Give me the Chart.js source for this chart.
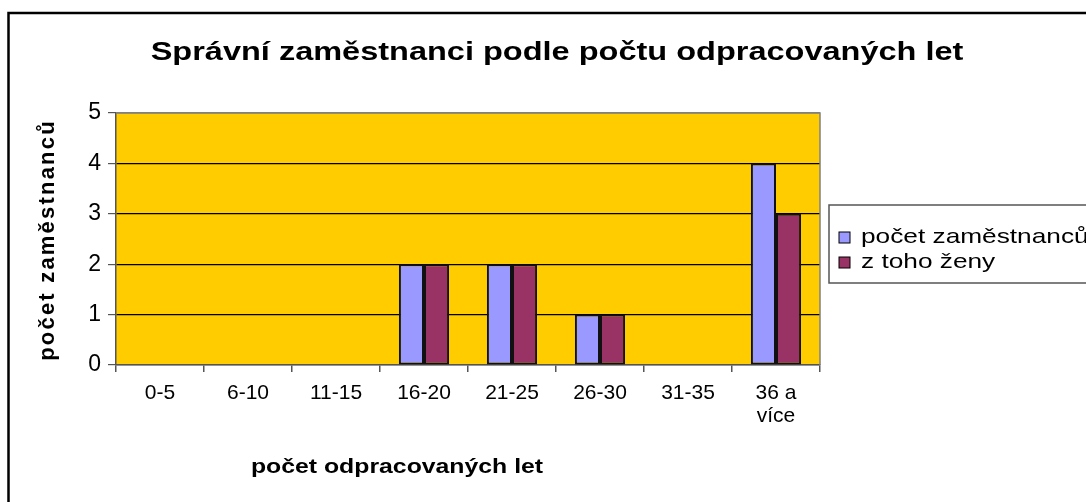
<!DOCTYPE html>
<html lang="cs">
<head>
<meta charset="utf-8">
<title>Správní zaměstnanci</title>
<script src="https://cdn.jsdelivr.net/npm/chart.js@4/dist/chart.umd.min.js"></script>
<style>
  html, body { margin: 0; padding: 0; background: #fff; }
  #wrap { width: 1086px; height: 502px; position: relative; }
</style>
</head>
<body>
<div id="wrap"><canvas id="chart" width="1086" height="502"></canvas></div>
<script>
// data
const categories = ['0-5', '6-10', '11-15', '16-20', '21-25', '26-30', '31-35', ['36 a', 'více']];
const pocetZamestnancu = [0, 0, 0, 2, 2, 1, 0, 4];
const zToHoZeny = [0, 0, 0, 2, 2, 1, 0, 3];
const yTicks = [0, 1, 2, 3, 4, 5];

const FONT = '"Liberation Sans", Arial, sans-serif';

// the original picture is a bit wider than it is tall, so text is stretched sideways
function stretchedText(ctx, text, x, y, font, sx, align, rotate, spacing) {
  ctx.save();
  ctx.translate(x, y);
  if (rotate) ctx.rotate(-Math.PI / 2);
  ctx.scale(sx, 1);
  ctx.font = font;
  ctx.letterSpacing = (spacing || 0) + 'px';
  ctx.textAlign = align;
  ctx.textBaseline = 'middle';
  ctx.fillStyle = '#000';
  ctx.fillText(text, 0, 0);
  ctx.restore();
}

// frame, titles, plot background and legend
const excelLook = {
  id: 'excelLook',
  beforeDraw(chart) {
    const { ctx, chartArea: a } = chart;
    ctx.save();
    ctx.fillStyle = '#FFCC00';
    ctx.fillRect(a.left, a.top, a.right - a.left, a.bottom - a.top);
    ctx.restore();
  },
  afterDraw(chart) {
    const { ctx, chartArea: a } = chart;
    ctx.save();
    // plot area top / right border
    ctx.strokeStyle = '#808080';
    ctx.lineWidth = 1.5;
    ctx.beginPath();
    ctx.moveTo(a.left, a.top);
    ctx.lineTo(a.right, a.top);
    ctx.lineTo(a.right, a.bottom);
    ctx.stroke();

    // outer frame
    ctx.strokeStyle = '#000';
    ctx.lineWidth = 2.5;
    ctx.strokeRect(8.5, 13, 1100, 520);

    stretchedText(ctx, 'Správní zaměstnanci podle počtu odpracovaných let', 557, 53,
      'bold 25px ' + FONT, 1.3, 'center');
    stretchedText(ctx, 'počet odpracovaných let', 397, 467,
      'bold 20px ' + FONT, 1.24, 'center');
    stretchedText(ctx, 'počet zaměstnanců', 48, 240,
      'bold 22px ' + FONT, 1.0, 'center', true, 2.2);

    // legend
    ctx.strokeStyle = '#555';
    ctx.lineWidth = 1.5;
    ctx.fillStyle = '#fff';
    ctx.fillRect(829, 205, 300, 78);
    ctx.strokeRect(829, 205, 300, 78);
    const items = [
      { text: 'počet zaměstnanců', color: '#9999FF', y: 237 },
      { text: 'z toho ženy', color: '#993366', y: 262 }
    ];
    items.forEach(it => {
      ctx.fillStyle = it.color;
      ctx.fillRect(839, it.y - 5, 11, 11);
      ctx.strokeStyle = '#000';
      ctx.lineWidth = 1;
      ctx.strokeRect(839, it.y - 5, 11, 11);
      stretchedText(ctx, it.text, 861, it.y, '21px ' + FONT, 1.25, 'left');
    });
    ctx.restore();
  }
};

new Chart(document.getElementById('chart'), {
  type: 'bar',
  data: {
    labels: categories,
    datasets: [
      {
        label: 'počet zaměstnanců',
        data: pocetZamestnancu,
        backgroundColor: '#9999FF',
        borderColor: '#111',
        borderWidth: c => (c.raw ? 2 : 0),
        borderSkipped: false
      },
      {
        label: 'z toho ženy',
        data: zToHoZeny,
        backgroundColor: '#993366',
        borderColor: '#111',
        borderWidth: c => (c.raw ? 2 : 0),
        borderSkipped: false
      }
    ]
  },
  options: {
    responsive: false,
    animation: false,
    categoryPercentage: 0.57,
    barPercentage: 1.0,
    layout: { padding: { left: 8, top: 113, right: 266, bottom: 0 } },
    plugins: {
      legend: { display: false },
      title: { display: false },
      tooltip: { enabled: false }
    },
    scales: {
      x: {
        afterFit: s => { s.height = 137; },
        grid: {
          offset: true,
          drawOnChartArea: false,
          color: '#555',
          tickLength: 7,
          lineWidth: 1.5
        },
        border: { color: '#555', width: 1.5 },
        ticks: {
          color: '#000',
          padding: 10,
          maxRotation: 0,
          autoSkip: false,
          font: { family: FONT, size: 21, lineHeight: 1.1 }
        }
      },
      y: {
        min: 0,
        max: 5,
        afterFit: s => { s.width = 108; },
        afterBuildTicks: s => { s.ticks = yTicks.map(v => ({ value: v })); },
        grid: {
          color: c => (c.tick && c.tick.value === 5 ? '#808080' : (c.tick && c.tick.value === 0 ? '#555' : '#000')),
          tickColor: '#555',
          tickLength: 8,
          lineWidth: 1.2
        },
        border: { color: '#555', width: 1.5 },
        ticks: {
          color: '#000',
          padding: 7,
          font: { family: FONT, size: 23 }
        }
      }
    }
  },
  plugins: [excelLook]
});
</script>
</body>
</html>
